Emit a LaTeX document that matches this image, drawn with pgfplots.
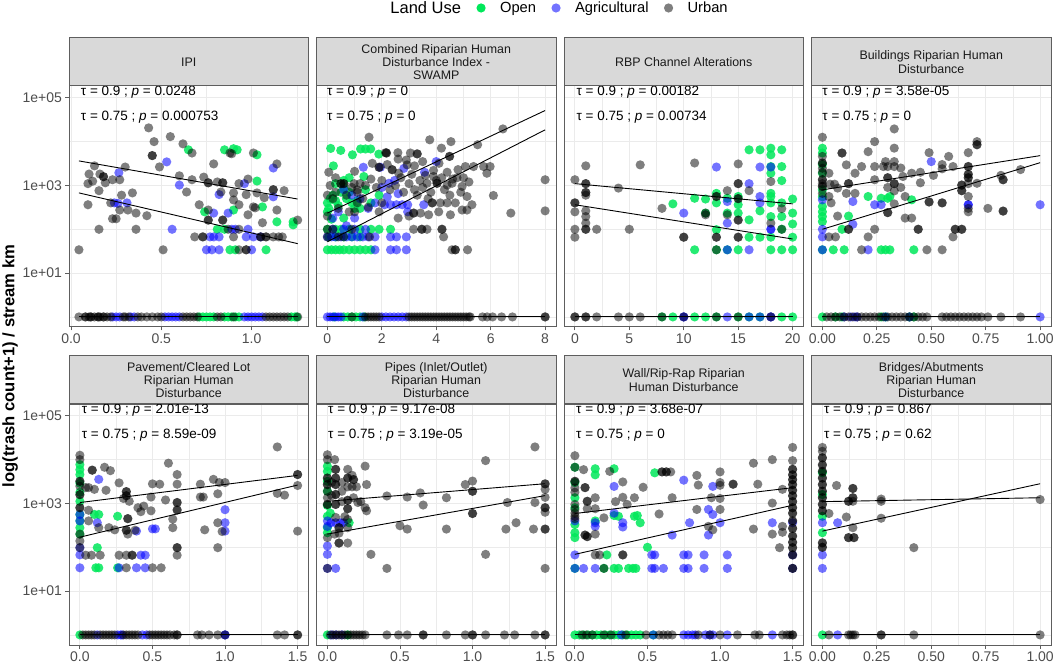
\documentclass[border=0pt]{standalone}
\usepackage{fontspec}
\setmainfont{Liberation Sans}
\usepackage{pgfplots}
\pgfplotsset{compat=1.18}
\definecolor{opengreen}{HTML}{00E85A}
\definecolor{gridc}{HTML}{EBEBEB}
\definecolor{bord}{HTML}{5E5E5E}
\definecolor{stripc}{HTML}{D9D9D9}
\definecolor{tickc}{HTML}{4D4D4D}
\definecolor{striptext}{HTML}{1A1A1A}
\pgfplotsset{
  dotbase/.style={only marks, mark=*, mark size=4.6pt, forget plot},
  urb/.style={dotbase, mark options={draw opacity=0, line width=0pt, fill=black, fill opacity=0.5}},
  agr/.style={dotbase, mark options={draw opacity=0, line width=0pt, fill=blue, fill opacity=0.55}},
  opn/.style={dotbase, mark options={draw opacity=0, line width=0pt, fill=opengreen, fill opacity=0.85}},
  qline/.style={black, line width=0.9pt, no markers, forget plot},
  every axis/.append style={
    scale only axis, width=239.5pt, height=241pt, anchor=south west,
    ymode=log, ymin=0.589, ymax=186000,
    ytick={10,1000,100000}, minor ytick={1,100,10000},
    grid=both,
    major grid style={draw=gridc, line width=0.9pt},
    minor grid style={draw=gridc, line width=0.45pt},
    axis line style={draw=bord, line width=1pt},
    tick align=outside, major tick length=3.5pt, minor tick length=0pt,
    tick style={draw=bord, line width=0.8pt},
    xtick pos=bottom, ytick pos=left,
    tick label style={font=\fontsize{14}{16}\selectfont, text=tickc},
    clip mode=individual,
  },
}
\tikzset{ann/.style={anchor=west, inner sep=0pt, font=\fontsize{13.5}{15}\selectfont}}
\begin{document}
\begin{tikzpicture}
\useasboundingbox (0,0) rectangle (1059pt,664pt);
% ---------------- Panel 1: IPI
\begin{axis}[name=p1, at={(69pt,337pt)},
  yticklabels={1e+01,1e+03,1e+05},
  xmin=-0.011, xmax=1.315, xtick={0,0.5,1}, xticklabels={0.0,0.5,1.0}, minor xtick={0.25,0.75,1.25},
  legend style={draw=none, fill=none, at={(axis description cs:2.016,1.3237)}, anchor=center,
    legend columns=-1, font=\fontsize{14.7}{16}\selectfont, nodes={inner sep=0pt},
    /tikz/every odd column/.append style={column sep=14.4pt},
    /tikz/every even column/.append style={column sep=15.4pt}}]
\addlegendimage{empty legend}\addlegendentry{\fontsize{16.5}{18}\selectfont Land Use}
\addlegendimage{only marks, mark=*, mark size=4.6pt, mark options={draw opacity=0, fill=opengreen}}\addlegendentry{Open}
\addlegendimage{only marks, mark=*, mark size=4.6pt, mark options={draw opacity=0, fill=blue, fill opacity=0.55}}\addlegendentry{Agricultural}
\addlegendimage{only marks, mark=*, mark size=4.6pt, mark options={draw opacity=0, fill=black, fill opacity=0.5}}\addlegendentry{Urban}
\addplot[opn] coordinates {(0.65,6500) (0.85,6500) (0.90,6900) (0.92,6500) (1.03,5000) (1.03,1260) (1.14,148) (1.23,148) (1.23,126) (0.90,275) (0.74,250) (1.06,324) (0.88,34) (0.91,34) (1.08,34) (0.81,100) (0.85,100)
 (0.71,1) (0.73,1) (0.75,1) (0.77,1) (0.79,1) (0.85,1) (0.87,1) (0.89,1) (0.91,1) (0.93,1) (1.22,1) (1.24,1) (1.25,1)};
\addplot[agr] coordinates {(0.53,3450) (1.12,2500) (0.265,1950) (0.60,1020) (0.82,620) (0.96,1100) (1.12,550) (0.24,400) (0.31,400) (0.26,390) (0.56,100) (0.79,234) (0.87,234) (0.77,67) (0.79,67) (0.82,67) (0.97,67) (1.01,67) (0.75,34) (0.78,34) (0.82,34) (1.0,34) (0.89,100) (0.91,100) (0.98,100) (1.05,67)
 (0.23,1) (0.25,1) (0.27,1) (0.33,1) (0.35,1) (0.52,1) (0.54,1) (0.56,1) (0.58,1) (0.60,1) (0.96,1) (0.98,1) (1.0,1) (1.02,1) (1.04,1) (1.06,1)};
\addplot[urb] coordinates {(0.43,20600) (0.46,10000) (0.55,13000) (0.62,8900) (0.45,4800) (0.45,4800) (0.49,2650) (0.67,5500) (0.79,3100) (0.88,5500) (0.89,5300) (1.01,5500) (1.14,3100) (1.18,760) (1.12,800) (1.12,800) (0.094,1100) (0.10,1820) (0.13,2800) (0.16,1820) (0.18,1585) (0.18,1585) (0.19,1150) (0.23,1350) (0.27,1350) (0.30,2630) (0.155,760) (0.34,676) (0.60,1660) (0.67,1350) (0.64,708) (0.735,1550) (0.76,1150) (0.76,1150) (0.81,1200) (0.84,1150) (0.84,1150) (0.83,708) (0.90,676) (0.93,1100) (0.97,617) (1.03,676) (1.07,525) (0.094,363) (0.22,400) (0.27,275) (0.315,275) (0.36,234) (0.42,204) (0.155,100) (0.23,174) (0.25,174) (0.36,100) (0.044,34) (0.51,34) (0.71,363) (0.76,275) (0.84,162) (0.84,162) (0.76,162) (0.76,162) (0.90,468) (0.93,363) (1.01,324) (1.06,141) (0.98,214) (1.02,309) (1.14,275) (1.255,162) (0.685,67) (0.73,67) (0.73,67) (0.90,67) (1.05,67) (1.05,67) (1.08,67) (1.08,67) (1.12,67) (1.15,67) (0.93,34) (0.97,34) (0.97,34) (0.87,100) (0.93,100) (0.28,600) (0.12,1250) (1.17,67) (0.98,1400)
 (0.044,1) (0.08,1) (0.08,1) (0.10,1) (0.11,1) (0.11,1) (0.13,1) (0.15,1) (0.15,1) (0.16,1) (0.18,1) (0.18,1) (0.20,1) (0.22,1) (0.29,1) (0.30,1) (0.32,1) (0.37,1) (0.39,1) (0.42,1) (0.45,1) (0.48,1) (0.50,1) (0.62,1) (0.64,1) (0.66,1) (0.68,1) (0.70,1) (0.81,1) (0.83,1) (0.90,1) (1.08,1) (1.10,1) (1.12,1) (1.14,1) (1.16,1) (1.18,1) (1.20,1) (1.255,1)};
\addplot[qline] coordinates {(0.044,3630) (1.255,490)};
\addplot[qline] coordinates {(0.044,676) (1.255,47)};
\addplot[qline] coordinates {(0.044,1) (1.255,1)};
\node[ann] at (rel axis cs:0.049,0.975) {τ = 0.9 ; \textit{p} = 0.0248};
\node[ann] at (rel axis cs:0.049,0.871) {τ = 0.75 ; \textit{p} = 0.000753};
\end{axis}
% ---------------- Panel 2: SWAMP
\begin{axis}[name=p2, at={(316.5pt,337pt)}, yticklabels={,,}, ytick style={draw=none},
  xmin=-0.4, xmax=8.4, xtick={0,2,4,6,8}, xticklabels={0,2,4,6,8}, minor xtick={1,3,5,7}]
\addplot[opn] coordinates {(0.12,7000) (0.49,6300) (0.92,5000) (1.22,6800) (1.4,6800) (1.59,6800) (1.89,5200) (0.22,2800) (1.34,1600) (2.32,100)
 (0.0,400) (0.0,250) (0.05,300) (0.1,500) (0.2,600) (0.3,450) (0.4,350) (0.5,700) (0.6,900) (0.7,500) (0.8,700) (0.9,400) (1.0,300) (1.1,450) (0.3,1100) (0.6,1300) (0.8,1500) (1.4,800) (1.2,300) (1.6,400) (1.9,600) (0.15,170) (0.6,180)
 (0.0,100) (0.3,100) (0.5,100) (0.8,100) (1.2,100) (1.6,100) (1.9,100) (0.05,67) (0.3,67) (0.6,67) (0.9,67) (1.2,67)
 (0.0,34) (0.15,34) (0.3,34) (0.45,34) (0.6,34) (0.8,34) (1.0,34) (1.2,34) (1.4,34) (1.6,34)
 (0.25,1) (0.6,1) (0.75,1) (0.9,1) (1.05,1) (1.2,1) (1.35,1)};
\addplot[agr] coordinates {(4.0,3500) (3.57,2000) (2.81,2450) (1.95,2600) (1.32,2600) (2.26,1120) (2.47,1300) (2.0,900) (2.1,363) (2.32,363) (2.54,363) (2.75,363) (2.95,363) (2.95,250) (3.54,363) (2.6,650) (2.2,550) (1.75,400) (1.5,300) (1.2,500) (0.9,600) (0.6,800) (0.4,250) (0.2,180) (1.0,180) (0.7,120)
 (0.0,67) (0.15,67) (0.3,67) (0.5,67) (0.7,67) (0.9,67) (1.1,67) (1.3,67) (1.5,67) (1.75,67) (2.32,67) (2.54,67) (2.9,67)
 (1.75,34) (2.32,34) (2.54,34) (2.9,34) (0.2,100) (0.6,100) (1.0,100) (1.4,100)
 (0,1) (0.1,1) (0.2,1) (0.3,1) (0.4,1) (0.5,1) (1.3,1) (2.0,1) (2.15,1) (2.3,1) (2.45,1) (2.6,1) (2.75,1) (2.9,1)};
\addplot[urb] coordinates {(1.53,12600) (6.45,19500) (5.52,8500) (4.54,10000) (3.76,11000) (4.19,7100) (4.49,4600) (4.49,4600) (3.05,5500) (2.59,5600) (2.17,5500) (2.17,5500) (3.3,5250) (3.3,5250) (2.93,2950) (2.38,2290) (2.38,2290) (2.62,1900) (1.65,3200) (1.9,2600) (1.9,2600) (2.14,5600) (3.66,1120) (3.9,1600) (4.03,1120) (4.03,1120) (4.2,1500) (4.4,1020) (4.58,1120) (4.76,1500) (5.07,2700) (5.37,2700) (4.95,950) (5.13,560) (5.31,363) (4.95,275) (4.7,400) (4.4,400) (4.15,400) (3.85,400) (3.85,400) (3.17,234) (3.17,234) (3.42,234) (3.72,214) (4.09,250) (4.52,214) (5.13,275) (5.74,2700) (5.98,2700) (5.86,1900) (6.1,590) (6.74,234) (8.0,1350) (8.0,263) (3.17,100) (3.47,100) (3.47,100) (3.66,100) (4.21,100) (4.21,100) (4.27,67) (4.58,34) (4.7,34) (4.7,34) (5.15,34)
 (3.2,800) (3.5,900) (3.8,700) (4.0,1300) (4.3,800) (3.6,1700) (3.9,2200) (4.1,3200) (4.4,2000) (4.6,1400) (3.4,1300) (3.0,1100) (2.8,700) (2.5,1000) (2.3,800) (2.7,1500) (3.1,1800) (3.3,600) (3.7,500) (4.5,600) (4.9,700) (5.0,1500) (5.2,1200) (4.8,2300) (3.5,3500) (3.2,2800) (2.9,3800) (2.6,4000) (2.2,3000) (2.0,1300) (1.8,900) (1.6,1400) (1.4,1000) (1.2,1100) (1.0,2100) (0.6,1100) (0.5,1100) (0.3,700) (0.2,500) (0.1,1000) (0.7,600) (1.1,400) (0.4,300) (0.8,250) (1.5,320) (1.9,250) (0.0,600) (0.0,200) (0.05,2000) (0.3,1500) (1.0,250) (2.0,400) (2.6,180) (3.0,200) (1.3,500) (0.9,900) (1.1,700) (0.49,1100) (0.61,1100) (0.98,1100) (1.1,790) (0.0,100) (0.2,100) (0.9,100) (0.0,67) (0.4,67) (0.6,67) (1.55,67)
 (0.9,1) (1.4,1) (1.5,1) (1.6,1) (1.7,1) (1.8,1) (1.9,1) (3.0,1) (3.1,1) (3.2,1) (3.3,1) (3.4,1) (3.5,1) (3.6,1) (3.7,1) (3.8,1) (3.9,1) (4.0,1) (4.1,1) (4.2,1) (4.3,1) (4.4,1) (4.5,1) (4.6,1) (4.7,1) (4.8,1) (4.9,1) (5.0,1) (5.1,1) (5.2,1) (5.25,1) (5.7,1) (5.87,1) (6.07,1) (6.4,1) (6.8,1) (8.0,1) (8.0,1)};
\addplot[qline] coordinates {(0,234) (8,51300)};
\addplot[qline] coordinates {(0,52) (8,18600)};
\addplot[qline] coordinates {(0,1) (8,1)};
\node[ann] at (rel axis cs:0.043,0.975) {τ = 0.9 ; \textit{p} = 0};
\node[ann] at (rel axis cs:0.043,0.871) {τ = 0.75 ; \textit{p} = 0};
\end{axis}
% ---------------- Panel 3: RBP
\begin{axis}[name=p3, at={(564pt,337pt)}, yticklabels={,,}, ytick style={draw=none},
  xmin=-1, xmax=21, xtick={0,5,10,15,20}, xticklabels={0,5,10,15,20}, minor xtick={2.5,7.5,12.5,17.5}]
\addplot[opn] coordinates {(9,380) (11,510) (11,34) (12,490) (12,234) (13,660) (13,400) (13,98) (13,34) (14,510) (14,234) (14,34) (15,560) (15,363) (15,234) (15,34) (16,6500) (16,164) (16,66) (17,6500) (17,263) (17,66) (18,7080) (18,5000) (18,2700) (18,1900) (18,660) (18,560) (18,400) (18,195) (18,66) (18,34) (19,6500) (19,2700) (19,1290) (19,400) (19,195) (19,100) (19,34) (20,490) (20,234) (20,132) (20,66) (20,34)
 (8,1) (9,1) (11,1) (12,1) (13,1) (15,1) (16,1) (17,1) (19,1) (20,1)};
\addplot[agr] coordinates {(13,2630) (10,234) (14,430) (14,138) (16,1100) (17,2630) (17,560) (17,400) (18,2630) (18,100) (18,100) (16,34) (14,34)
 (10,1) (10,1) (14,1) (16,1) (17,1) (18,1) (18,1)};
\addplot[urb] coordinates {(0,1350) (0,400) (0,400) (0,250) (0,100) (0,66) (1,2800) (1,1100) (1,1100) (1,690) (1,690) (1,600) (1,263) (1,195) (1,138) (1,100) (1,100) (2,100) (4,870) (5,100) (6,2950) (8,300) (10,66) (10,66) (11,3250) (12,214) (13,560) (13,560) (13,66) (13,66) (14,760) (14,214) (15,3100) (15,1100) (15,1100) (15,500) (15,500) (15,162) (15,162) (15,66) (15,66) (16,760) (18,1230) (18,138) (19,295) (12,234) (19,100) (13,34)
 (0,1) (0,1) (1,1) (1,1) (2,1) (4,1) (5,1) (6,1) (8,1) (10,1) (13,1) (15,1) (18,1)};
\addplot[qline] coordinates {(0,1100) (20,380)};
\addplot[qline] coordinates {(0,363) (20,60)};
\addplot[qline] coordinates {(0,1) (20,1)};
\node[ann] at (rel axis cs:0.052,0.975) {τ = 0.9 ; \textit{p} = 0.00182};
\node[ann] at (rel axis cs:0.052,0.871) {τ = 0.75 ; \textit{p} = 0.00734};
\end{axis}
% ---------------- Panel 4: Buildings
\begin{axis}[name=p4, at={(811.5pt,337pt)}, yticklabels={,,}, ytick style={draw=none},
  xmin=-0.05, xmax=1.05, xtick={0,0.25,0.5,0.75,1}, xticklabels={0.00,0.25,0.50,0.75,1.00}, minor xtick={0.125,0.375,0.625,0.875}]
\addplot[opn] coordinates {(0,7080) (0,5500) (0,1900) (0,330) (0,250) (0,195) (0,150) (0,34) (0,3000) (0,800) (0,550) (0.05,34) (0.1,34) (0.09,100) (0.21,560) (0.27,510) (0.30,510) (0.31,560) (0.41,470) (0.42,34) (0.27,34) (0.29,34) (0.31,34) (0.12,200)
 (0,1) (0.06,1) (0.09,1) (0.27,1) (0.29,1) (0.40,1) (0.42,1)};
\addplot[agr] coordinates {(0,470) (0,100) (0,67) (0,34) (0.14,430) (0.14,130) (0.24,363) (0.27,363) (0.50,3500) (0.67,363) (0.67,363) (1.0,363) (0.21,34)
 (0.10,1) (0.13,1) (0.15,1) (0.16,1) (0.29,1) (0.40,1) (1.0,1)};
\addplot[urb] coordinates {(0,12600) (0,4600) (0,3240) (0,3240) (0,2470) (0,1350) (0,1350) (0,950) (0,950) (0,660) (0,1100) (0,2000)
 (0.03,1900) (0.035,1070) (0.056,1070) (0.03,560) (0.04,400) (0.07,870) (0.07,200) (0.03,67) (0.06,67) (0.09,5500) (0.09,5500) (0.11,2950) (0.12,1100) (0.12,1100) (0.11,660) (0.12,100) (0.12,100) (0.15,1900) (0.15,660) (0.18,34) (0.18,2700) (0.21,67) (0.21,5900) (0.24,10000) (0.24,2700) (0.24,1350) (0.24,100) (0.28,2700) (0.29,3500) (0.30,2700) (0.30,1500) (0.30,1500) (0.30,900) (0.30,240) (0.30,240) (0.33,19500) (0.33,7100) (0.33,3500) (0.33,2700) (0.33,1100) (0.33,1100) (0.33,750) (0.33,380) (0.36,2500) (0.36,900) (0.37,1600) (0.38,180) (0.38,560) (0.41,180) (0.41,1900) (0.44,100) (0.44,100) (0.45,2000) (0.45,1150) (0.48,34) (0.49,420) (0.49,420) (0.49,5600) (0.51,1700) (0.55,3000) (0.55,2400) (0.55,400) (0.55,400) (0.55,34) (0.58,4600) (0.60,2700) (0.61,100) (0.61,100) (0.64,100) (0.64,100) (0.60,67) (0.64,1020) (0.64,1020) (0.64,760) (0.64,760) (0.67,5600) (0.67,2700) (0.67,2700) (0.67,1800) (0.67,1800) (0.67,1500) (0.67,1500) (0.67,1100) (0.67,560) (0.67,300) (0.67,250) (0.71,8500) (0.71,8500) (0.71,10000) (0.71,1120) (0.76,300) (0.82,1700) (0.83,1350) (0.83,1350) (0.83,260) (0.83,260) (0.91,2300)
 (0.02,1) (0.04,1) (0.06,1) (0.08,1) (0.10,1) (0.12,1) (0.14,1) (0.16,1) (0.18,1) (0.20,1) (0.22,1) (0.24,1) (0.26,1) (0.28,1) (0.30,1) (0.32,1) (0.34,1) (0.36,1) (0.38,1) (0.40,1) (0.42,1) (0.44,1) (0.46,1) (0.48,1)
 (0.55,1) (0.57,1) (0.59,1) (0.61,1) (0.63,1) (0.65,1) (0.67,1) (0.69,1) (0.71,1) (0.73,1) (0.76,1) (0.82,1) (0.91,1)};
\addplot[qline] coordinates {(0,794) (1,4790)};
\addplot[qline] coordinates {(0,100) (1,3310)};
\addplot[qline] coordinates {(0,1) (1,1)};
\node[ann] at (rel axis cs:0.045,0.975) {τ = 0.9 ; \textit{p} = 3.58e-05};
\node[ann] at (rel axis cs:0.045,0.871) {τ = 0.75 ; \textit{p} = 0};
\end{axis}
% ---------------- Panel 5: Pavement
\begin{axis}[name=p5, at={(69pt,19pt)}, yticklabels={1e+01,1e+03,1e+05},
  xmin=-0.075, xmax=1.575, xtick={0,0.5,1,1.5}, xticklabels={0.0,0.5,1.0,1.5}, minor xtick={0.25,0.75,1.25}]
\addplot[opn] coordinates {(0,7700) (0,5900) (0,4570) (0,2900) (0,1800) (0,1120) (0,560) (0,400) (0,280) (0,200) (0.1,560) (0.13,560) (0.26,510) (0.12,98) (0.11,34) (0.13,34) (0.26,34)
 (0,1)};
\addplot[agr] coordinates {(0.13,3550) (0.12,363) (0.39,234) (0.52,263) (0.50,263) (1.0,720) (1.0,363) (1.0,234) (0,560) (0,400) (0,67) (0,98) (0,34) (0.42,66) (0.45,66) (0.39,34) (0.45,34) (0.27,34)
 (0.12,1) (0.26,1) (0.28,1) (0.29,1) (0.43,1) (0.46,1) (1.0,1) (1.0,1)};
\addplot[urb] coordinates {(0,12600) (0,10000) (0,3200) (0,3200) (0,2470) (0,1590) (0,1590) (0,800) (0,800) (0,200) (0,139) (0,98)
 (0.085,5750) (0.085,5750) (0.17,6700) (0.21,5600) (0.04,2300) (0.06,2300) (0.1,2100) (0.18,2000) (0.27,2950) (0.32,1860) (0.32,1860) (0.32,1500) (0.32,1500) (0.30,1300) (0.34,1120) (0.06,700) (0.06,400) (0.13,280) (0.2,280) (0.24,250) (0.33,450) (0.33,450) (0.32,245) (0.32,245) (0.33,200) (0.38,245) (0.40,800) (0.42,650) (0.44,870) (0.49,1400) (0.49,680) (0.5,2800) (0.55,2750) (0.61,8300) (0.59,1200) (0.64,440) (0.64,280) (0.67,4570) (0.67,2750) (0.67,1050) (0.67,1050) (0.67,710) (0.67,710) (0.67,98) (0.67,98) (0.67,66) (0.83,2750) (0.83,1400) (0.85,1400) (0.86,250) (0.92,3550) (0.95,1660) (0.95,363) (0.95,98) (0.96,3000) (0.98,229) (1.0,3000) (1.36,19500) (1.36,1700) (1.41,1550) (1.5,4570) (1.5,4570) (1.5,2570) (1.5,234)
 (0.04,66) (0.08,66) (0.14,66) (0.27,66) (0.32,66) (0.36,66) (0.36,66) (0.32,34) (0.5,34) (0.56,34)
 (0.02,1) (0.04,1) (0.06,1) (0.08,1) (0.10,1) (0.14,1) (0.16,1) (0.18,1) (0.20,1) (0.22,1) (0.24,1) (0.30,1) (0.32,1) (0.34,1) (0.36,1) (0.38,1) (0.40,1) (0.48,1) (0.50,1) (0.52,1) (0.54,1) (0.56,1) (0.58,1) (0.60,1) (0.62,1) (0.65,1) (0.67,1) (0.67,1) (0.81,1) (0.84,1) (0.89,1) (0.95,1) (1.0,1) (1.36,1) (1.41,1) (1.5,1) (1.5,1)};
\addplot[qline] coordinates {(0,1050) (1.5,4370)};
\addplot[qline] coordinates {(0,170) (1.5,2630)};
\addplot[qline] coordinates {(0,1) (1.5,1)};
\node[ann] at (rel axis cs:0.053,0.975) {τ = 0.9 ; \textit{p} = 2.01e-13};
\node[ann] at (rel axis cs:0.053,0.871) {τ = 0.75 ; \textit{p} = 8.59e-09};
\end{axis}
% ---------------- Panel 6: Pipes
\begin{axis}[name=p6, at={(316.5pt,19pt)}, yticklabels={,,}, ytick style={draw=none},
  xmin=-0.075, xmax=1.575, xtick={0,0.5,1,1.5}, xticklabels={0.0,0.5,1.0,1.5}, minor xtick={0.25,0.75,1.25}]
\addplot[opn] coordinates {(0,7080) (0,5400) (0,510) (0,280) (0,215) (0,3200) (0,1900) (0,900) (0.15,363) (0.02,600)
 (0,1) (0.14,1)};
\addplot[agr] coordinates {(0,400) (0,107) (0,69) (0,33) (0,300) (0.025,363) (0.057,363) (0.09,363) (0.11,363) (0.057,33)
 (0.03,1) (0.06,1) (0.1,1)};
\addplot[urb] coordinates {(0,12900) (0,10000) (0,3800) (0,3800) (0,2700) (0,2700) (0,1900) (0,1350) (0,950) (0,950) (0,166) (0,33)
 (0.05,10000) (0.057,6000) (0.057,6000) (0.057,3800) (0.057,3800) (0.057,2700) (0.057,2700) (0.057,1600) (0.057,1600) (0.057,950) (0.057,950) (0.057,480) (0.08,280) (0.08,280) (0.08,210) (0.08,125) (0.08,125) (0.14,6000) (0.14,3800) (0.14,3800) (0.14,2400) (0.14,1180) (0.14,1180) (0.14,760) (0.14,760) (0.14,430) (0.14,280) (0.14,125) (0.17,4400) (0.18,3500) (0.18,3500) (0.17,2400) (0.2,2400) (0.21,1050) (0.23,1100) (0.26,7100) (0.27,2700) (0.27,680) (0.26,800) (0.18,1350) (0.3,69) (0.41,1480) (0.41,33) (0.5,310) (0.55,1400) (0.55,260) (0.64,1740) (0.66,920) (0.82,1350) (0.82,260) (0.95,2700) (1.0,3240) (1.0,1900) (1.0,1900) (1.0,590) (1.0,590) (1.09,9500) (1.09,69) (1.24,1050) (1.23,260) (1.3,363) (1.43,19500) (1.43,1050) (1.42,260) (1.5,2800) (1.5,2800) (1.5,2100) (1.5,1380) (1.5,800) (1.5,800) (1.5,630) (1.5,260) (1.5,260) (1.5,33)
 (0.03,3000) (0.03,1500) (0.1,1900) (0.1,1100) (0.12,500) (0.05,200) (0.1,3000)
 (0.02,1) (0.04,1) (0.06,1) (0.08,1) (0.10,1) (0.12,1) (0.14,1) (0.16,1) (0.18,1) (0.20,1) (0.22,1) (0.24,1) (0.26,1) (0.41,1) (0.49,1) (0.55,1) (0.66,1) (0.66,1) (0.82,1) (0.95,1) (1.0,1) (1.0,1) (1.09,1) (1.22,1) (1.29,1) (1.43,1) (1.5,1) (1.5,1)};
\addplot[qline] coordinates {(0,1120) (1.5,2820)};
\addplot[qline] coordinates {(0,200) (1.5,1510)};
\addplot[qline] coordinates {(0,1) (1.5,1)};
\node[ann] at (rel axis cs:0.048,0.975) {τ = 0.9 ; \textit{p} = 9.17e-08};
\node[ann] at (rel axis cs:0.048,0.871) {τ = 0.75 ; \textit{p} = 3.19e-05};
\end{axis}
% ---------------- Panel 7: Wall
\begin{axis}[name=p7, at={(564pt,19pt)}, yticklabels={,,}, ytick style={draw=none},
  xmin=-0.075, xmax=1.575, xtick={0,0.5,1,1.5}, xticklabels={0.0,0.5,1.0,1.5}, minor xtick={0.25,0.75,1.25}]
\addplot[opn] coordinates {(0,6700) (0,1350) (0,330) (0,215) (0,166) (0,33) (0,3000) (0,800) (0.14,6200) (0.14,4500) (0.27,6200) (0.14,400) (0.27,530) (0.3,510) (0.41,510) (0.43,530) (0.45,363) (0.55,5000) (0.5,100) (0.22,67)
 (0.2,33) (0.27,33) (0.3,33) (0.37,33) (0.4,33) (0.42,33)
 (0,1) (0.03,1) (0.06,1) (0.09,1) (0.12,1) (0.15,1) (0.18,1) (0.21,1) (0.24,1) (0.27,1) (0.30,1) (0.33,1) (0.36,1) (0.39,1) (0.42,1) (0.45,1) (0.54,1)};
\addplot[agr] coordinates {(0,400) (0,67) (0,33) (0.14,363) (0.14,300) (0.27,2450) (0.27,600) (0.33,363) (0.33,290) (0.67,190) (0.75,3400) (0.79,363) (0.92,730) (0.95,2450) (0.95,560) (0.92,190) (1.0,363) (1.36,363) (1.5,363) (1.5,67) (1.5,33)
 (0.53,67) (0.55,67) (0.75,67) (0.78,67) (0.89,67) (1.05,67) (0.06,33) (0.14,33) (0.53,33) (0.55,33) (0.61,33) (0.75,33) (0.78,33) (0.89,33) (1.05,33)
 (0.32,1) (0.54,1) (0.75,1) (0.78,1) (0.81,1) (0.83,1) (0.90,1) (0.93,1) (0.95,1) (1.05,1) (1.36,1)};
\addplot[urb] coordinates {(0,12300) (0,6700) (0,3200) (0,3200) (0,2270) (0,950) (0,730) (0,510) (0,1800) (0,600) (0,450)
 (0.06,5900) (0.24,5400) (0.07,2300) (0.07,2300) (0.14,1350) (0.085,1120) (0.085,1120) (0.085,760) (0.14,760) (0.07,190) (0.07,190) (0.085,175) (0.085,175) (0.14,200) (0.2,470) (0.33,3100) (0.33,1380) (0.36,950) (0.41,1350) (0.28,1100) (0.47,2340) (0.58,575) (0.6,5250) (0.6,5250) (0.63,5250) (0.63,5250) (0.66,5250) (0.67,1350) (0.84,4370) (0.85,2630) (0.84,730) (0.94,1350) (0.92,300) (0.95,250) (1.0,5250) (1.0,3000) (1.0,2600) (1.0,1300) (1.0,730) (1.09,2750) (1.09,2750) (1.23,8300) (1.23,260) (1.26,2750) (1.36,10000) (1.36,1020) (1.36,200) (1.41,98) (1.43,2100) (1.43,300) (1.43,220)
 (1.5,19000) (1.5,9500) (1.5,6000) (1.5,6000) (1.5,4500) (1.5,4500) (1.5,3500) (1.5,3500) (1.5,2700) (1.5,2700) (1.5,2000) (1.5,2000) (1.5,1500) (1.5,1500) (1.5,1100) (1.5,1100) (1.5,800) (1.5,800) (1.5,600) (1.5,600) (1.5,400) (1.5,400) (1.5,270) (1.5,270) (1.5,180) (1.5,180) (1.5,130) (1.5,130) (1.5,98) (1.5,98) (1.5,67) (1.5,67) (1.5,33) (1.5,33)
 (0.14,67) (0.17,67) (0.33,67) (0.33,67) (0.2,33)
 (0.05,1) (0.08,1) (0.12,1) (0.2,1) (0.25,1) (0.35,1) (0.49,1) (0.58,1) (0.61,1) (0.64,1) (0.67,1) (0.85,1) (0.93,1) (1.0,1) (1.12,1) (1.24,1) (1.27,1) (1.43,1) (1.46,1) (1.48,1) (1.5,1) (1.5,1)};
\addplot[qline] coordinates {(0,590) (1.5,2290)};
\addplot[qline] coordinates {(0,69) (1.5,910)};
\addplot[qline] coordinates {(0,1) (1.5,1)};
\node[ann] at (rel axis cs:0.05,0.975) {τ = 0.9 ; \textit{p} = 3.68e-07};
\node[ann] at (rel axis cs:0.05,0.871) {τ = 0.75 ; \textit{p} = 0};
\end{axis}
% ---------------- Panel 8: Bridges
\begin{axis}[name=p8, at={(811.5pt,19pt)}, yticklabels={,,}, ytick style={draw=none},
  xmin=-0.05, xmax=1.05, xtick={0,0.25,0.5,0.75,1}, xticklabels={0.00,0.25,0.50,0.75,1.00}, minor xtick={0.125,0.375,0.625,0.875}]
\addplot[opn] coordinates {(0,5000) (0,510) (0,215) (0,1600) (0,1)};
\addplot[agr] coordinates {(0.07,363) (0,363) (0,67) (0,33) (0.07,1)};
\addplot[urb] coordinates {(0,19000) (0,15500) (0,11000) (0,11000) (0,7600) (0,7600) (0,5400) (0,5400) (0,3800) (0,3800) (0,2700) (0,2700) (0,1900) (0,1900) (0,1350) (0,1350) (0,950) (0,950) (0,680) (0,680) (0,126) (0,126) (0,100) (0,100)
 (0.03,590) (0.065,2570) (0.11,490) (0.12,1120) (0.12,1120) (0.12,166) (0.12,166) (0.14,2200) (0.14,2200) (0.14,1350) (0.14,1350) (0.14,1120) (0.14,280) (0.145,166) (0.145,166) (0.27,1260) (0.27,1120) (0.27,460) (0.42,98) (1.0,1230)
 (0.03,1) (0.12,1) (0.13,1) (0.14,1) (0.15,1) (0.27,1) (0.27,1) (0.42,1) (1.0,1)};
\addplot[qline] coordinates {(0,1100) (1,1350)};
\addplot[qline] coordinates {(0,234) (1,2820)};
\addplot[qline] coordinates {(0,1) (1,1)};
\node[ann] at (rel axis cs:0.052,0.975) {τ = 0.9 ; \textit{p} = 0.867};
\node[ann] at (rel axis cs:0.052,0.871) {τ = 0.75 ; \textit{p} = 0.62};
\end{axis}
% ---------------- strips
\tikzset{strip/.style={fill=stripc, draw=bord, line width=1pt},
  striplab/.style={align=center, font=\fontsize{12.4}{13.3}\selectfont, text=striptext}}
\foreach \n in {p1,p2,p3,p4,p5,p6,p7,p8}{
  \draw[strip] (\n.north west) rectangle ([yshift=48pt]\n.north east);
}
\node[striplab] at ([yshift=24pt]p1.north) {IPI};
\node[striplab] at ([yshift=24pt]p2.north) {Combined Riparian Human\\Disturbance Index -\\SWAMP};
\node[striplab] at ([yshift=24pt]p3.north) {RBP Channel Alterations};
\node[striplab] at ([yshift=24pt]p4.north) {Buildings Riparian Human\\Disturbance};
\node[striplab] at ([yshift=24pt]p5.north) {Pavement/Cleared Lot\\Riparian Human\\Disturbance};
\node[striplab] at ([yshift=24pt]p6.north) {Pipes (Inlet/Outlet)\\Riparian Human\\Disturbance};
\node[striplab] at ([yshift=24pt]p7.north) {Wall/Rip-Rap Riparian\\Human Disturbance};
\node[striplab] at ([yshift=24pt]p8.north) {Bridges/Abutments\\Riparian Human\\Disturbance};
% ---------------- y label
\node[rotate=90, font=\bfseries\fontsize{16.6}{18}\selectfont] at (10pt,298pt) {log(trash count+1) / stream km};
\end{tikzpicture}
\end{document}
